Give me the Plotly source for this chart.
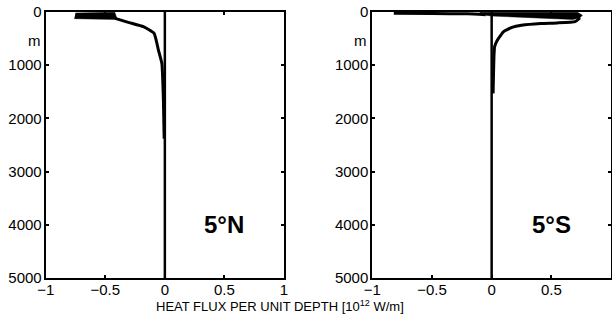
import plotly.graph_objects as go

# Meridional heat flux per unit depth at 5°N and 5°S (10^12 W/m) vs depth (m)
n_flux = [-0.417, -0.30, -0.18, -0.09, -0.054, -0.025, -0.012, -0.006]
n_depth = [119, 200, 277, 402, 716, 967, 1657, 2380]
# spread of the near-surface values at 5°N
n_env_flux = [-0.75, -0.42, -0.40, -0.76]
n_env_depth = [20, 5, 140, 125]

s_top_flux = [-0.82, -0.5, -0.2, -0.05]
s_top_depth = [25, 28, 35, 50]
s_flux = [0.74, 0.70, 0.55, 0.41, 0.25, 0.17, 0.10, 0.045, 0.025, 0.02, 0.017, 0.012]
s_depth = [110, 180, 205, 215, 250, 290, 370, 540, 650, 800, 1030, 1530]
# spread of the near-surface values at 5°S
s_env_flux = [-0.1, 0.72, 0.76, 0.74, 0.68, 0.3, 0.0, -0.1]
s_env_depth = [5, 5, 60, 110, 140, 110, 75, 45]

x_ticks = [-1, -0.5, 0, 0.5, 1]
x_ticktext = ["\u22121", "\u22120.5", "0", "0.5", "1"]
y_ticks = [0, 1000, 2000, 3000, 4000, 5000]
zero_flux = [0, 0]
zero_depth = [0, 5000]

FONT = "Liberation Sans, Arial, Helvetica, sans-serif"

fig = go.Figure()

def add_panel(col, env_x, env_y, lines):
    xa = "x" if col == 1 else "x2"
    ya = "y" if col == 1 else "y2"
    fig.add_trace(go.Scatter(x=zero_flux, y=zero_depth, mode="lines",
                             line=dict(color="black", width=2.5),
                             xaxis=xa, yaxis=ya, showlegend=False))
    fig.add_trace(go.Scatter(x=env_x, y=env_y, mode="lines", fill="toself",
                             fillcolor="black", line=dict(color="black", width=0.5),
                             xaxis=xa, yaxis=ya, showlegend=False))
    for lx, ly in lines:
        fig.add_trace(go.Scatter(x=lx, y=ly, mode="lines",
                                 line=dict(color="black", width=3, shape="spline", smoothing=0.4),
                                 xaxis=xa, yaxis=ya, showlegend=False))

add_panel(1, n_env_flux, n_env_depth, [(n_flux, n_depth)])
add_panel(2, s_env_flux, s_env_depth, [(s_top_flux, s_top_depth), (s_flux, s_depth)])

axis_common = dict(showgrid=False, zeroline=False, showline=True, linecolor="black",
                   linewidth=2, mirror="ticks", ticks="inside", ticklen=3,
                   tickwidth=1.5, tickcolor="black", automargin=False,
                   tickfont=dict(family=FONT, size=15, color="black"))

y_dom = [42 / 320, 1 - 12 / 320]
fig.update_layout(
    template="none",
    width=612, height=320,
    margin=dict(l=0, r=0, t=0, b=0, pad=0),
    paper_bgcolor="white", plot_bgcolor="white",
    showlegend=False,
    xaxis=dict(domain=[45.7 / 612, 284 / 612], range=[-1, 1], tickvals=x_ticks,
               ticktext=x_ticktext, anchor="y", ticklabelstandoff=-3, **axis_common),
    yaxis=dict(domain=y_dom, range=[5000, 0], tickvals=y_ticks, anchor="x",
               ticklabelstandoff=-1, **axis_common),
    xaxis2=dict(domain=[372.3 / 612, 611 / 612], range=[-1, 1], tickvals=x_ticks,
                ticktext=x_ticktext, anchor="y2", ticklabelstandoff=-3, **axis_common),
    yaxis2=dict(domain=y_dom, range=[5000, 0], tickvals=y_ticks, anchor="x2",
                ticklabelstandoff=-1, **axis_common),
    annotations=[
        dict(text="<b>5°N</b>", x=0.5, y=4000, xref="x", yref="y", showarrow=False,
             font=dict(family=FONT, size=24, color="black")),
        dict(text="<b>5°S</b>", x=0.5, y=4000, xref="x2", yref="y2", showarrow=False,
             font=dict(family=FONT, size=24, color="black")),
        dict(text="m", x=43 / 612, y=1 - 40 / 320, xref="paper", yref="paper",
             xanchor="right", yanchor="middle", showarrow=False,
             font=dict(family=FONT, size=15, color="black")),
        dict(text="m", x=369 / 612, y=1 - 40 / 320, xref="paper", yref="paper",
             xanchor="right", yanchor="middle", showarrow=False,
             font=dict(family=FONT, size=15, color="black")),
        dict(text="HEAT FLUX PER UNIT DEPTH [10<sup>12</sup> W/m]", x=280 / 612,
             y=1 - 306 / 320, xref="paper", yref="paper", showarrow=False,
             xanchor="center", yanchor="middle",
             font=dict(family=FONT, size=13, color="black")),
    ],
)

fig.write_html("out.html")
